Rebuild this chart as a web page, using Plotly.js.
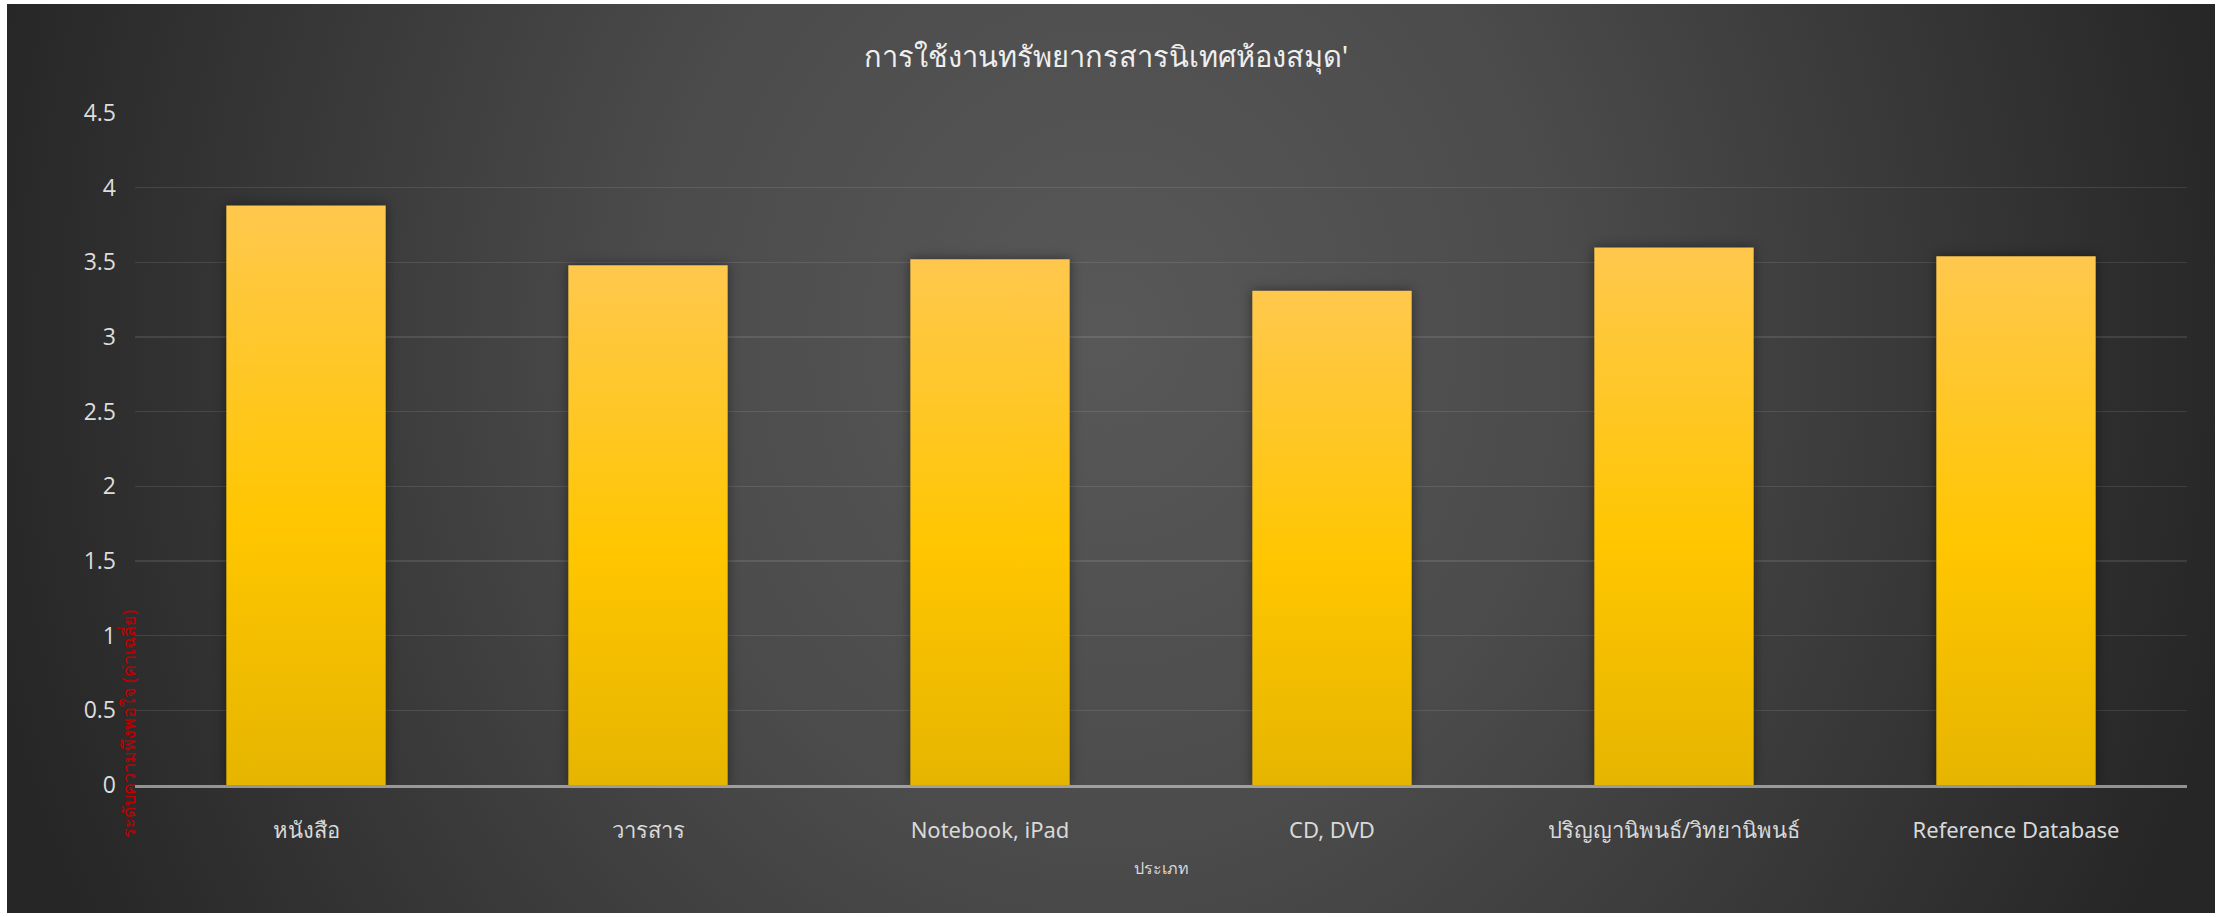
<!DOCTYPE html>
<html>
<head>
<meta charset="utf-8">
<script src="https://cdn.plot.ly/plotly-3.0.1.min.js"></script>
<style>
  html, body { margin: 0; padding: 0; background: #ffffff; }
  #bg { position: absolute; left: 7px; top: 4px; width: 2208px; height: 909px;
        background: radial-gradient(ellipse 1150px 1300px at 1100px 330px, #585858 0%, #4b4b4b 40%, #262626 100%); }
  #chart { position: absolute; left: 0; top: 0; width: 2221px; height: 917px; }
</style>
</head>
<body>
<div id="bg"></div>
<div id="chart"></div>
<script>
const categories = ["หนังสือ", "วารสาร", "Notebook, iPad", "CD, DVD", "ปริญญานิพนธ์/วิทยานิพนธ์", "Reference Database"];
const values = [3.88, 3.48, 3.52, 3.31, 3.60, 3.54];
const yTickValues = [0, 0.5, 1, 1.5, 2, 2.5, 3, 3.5, 4, 4.5];
const yTickLabels = ["0", "0.5", "1", "1.5", "2", "2.5", "3", "3.5", "4", "4.5"];
const chartTitle = "การใช้งานทรัพยากรสารนิเทศห้องสมุด'";
const xTitle = "ประเภท";
const yTitle = "ระดับความพึงพอใจ (ค่าเฉลี่ย)";

const thaiFont = "'Liberation Sans Narrow', 'Noto Sans', 'DejaVu Sans', sans-serif";

const trace = {
  type: "bar",
  x: categories,
  y: values,
  marker: { color: "#FFC600", line: { width: 0 } },
  hoverinfo: "none"
};

const layout = {
  width: 2221,
  height: 917,
  paper_bgcolor: "rgba(0,0,0,0)",
  plot_bgcolor: "rgba(0,0,0,0)",
  margin: { l: 135, r: 34, t: 113, b: 132 },
  bargap: 0.534,
  showlegend: false,
  title: {
    text: chartTitle,
    font: { family: thaiFont, size: 29, color: "#eeeeee" },
    xref: "container", x: 0.498,
    yref: "container", y: 0.938, yanchor: "middle"
  },
  xaxis: {
    type: "category",
    showgrid: false,
    showline: true,
    linecolor: "rgba(217,217,217,0.6)",
    linewidth: 3,
    layer: "above traces",
    ticks: "",
    ticklabelstandoff: 24,
    tickfont: { family: thaiFont, size: 22, color: "#d9d9d9" },
    title: {
      text: xTitle,
      font: { family: thaiFont, size: 16, color: "#d9d9d9" },
      standoff: 20
    }
  },
  yaxis: {
    range: [0, 4.5],
    tickvals: yTickValues,
    ticktext: yTickLabels,
    showgrid: true,
    gridcolor: "rgba(255,255,255,0.1)",
    gridwidth: 1.5,
    zeroline: false,
    showline: false,
    ticks: "",
    ticklabelstandoff: 18,
    tickfont: { family: "'Open Sans', 'Noto Sans', sans-serif", size: 23, color: "#dddddd" }
  },
  annotations: [{
    text: yTitle,
    textangle: -90,
    xref: "paper", x: -0.0035, xanchor: "center",
    yref: "paper", y: 0.09, yanchor: "middle",
    showarrow: false,
    font: { family: thaiFont, size: 18, color: "#C00000" }
  }]
};

function styleBars(gd) {
  const svg = gd.querySelector(".main-svg");
  let defs = svg.querySelector("defs");
  const ns = "http://www.w3.org/2000/svg";
  if (!svg.querySelector("#barGrad")) {
    const lg = document.createElementNS(ns, "linearGradient");
    lg.setAttribute("id", "barGrad");
    lg.setAttribute("x1", "0"); lg.setAttribute("y1", "0");
    lg.setAttribute("x2", "0"); lg.setAttribute("y2", "1");
    [["0%", "#FFC84D"], ["55%", "#FFC600"], ["100%", "#E6B500"]].forEach(([o, c]) => {
      const st = document.createElementNS(ns, "stop");
      st.setAttribute("offset", o);
      st.setAttribute("stop-color", c);
      lg.appendChild(st);
    });
    defs.appendChild(lg);
  }
  gd.querySelectorAll(".bars .point path").forEach(p => {
    p.style.fill = "url(#barGrad)";
    p.style.filter = "drop-shadow(0px 0px 6px rgba(0,0,0,0.45))";
  });
}

Plotly.newPlot("chart", [trace], layout, { displayModeBar: false, staticPlot: true })
  .then(gd => { styleBars(gd); });
</script>
</body>
</html>
